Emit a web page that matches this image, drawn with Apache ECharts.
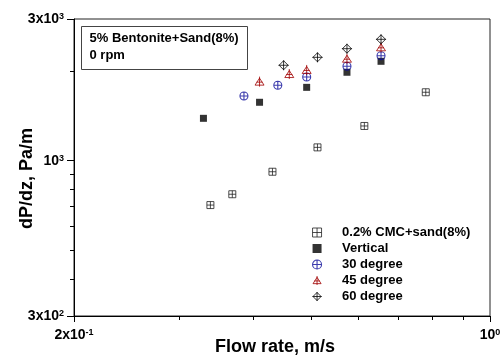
<!DOCTYPE html>
<html>
<head>
<meta charset="utf-8">
<script src="https://cdn.jsdelivr.net/npm/echarts@6/dist/echarts.min.js"></script>
<style>
  html, body { margin: 0; padding: 0; background: #fff; }
  #chart { width: 503px; height: 356px; }
</style>
</head>
<body>
<div id="chart"></div>
<script>
// pressure gradient vs flow rate, log-log
const cmcX = [0.339, 0.369, 0.431, 0.513, 0.615, 0.780];
const cmcY = [709, 771, 918, 1109, 1309, 1700];
const vertX = [0.330, 0.410, 0.492, 0.575, 0.656];
const vertY = [1389, 1573, 1766, 1985, 2161];
const deg30X = [0.386, 0.440, 0.492, 0.575, 0.656];
const deg30Y = [1651, 1794, 1913, 2079, 2257];
const deg45X = [0.410, 0.460, 0.492, 0.575, 0.656];
const deg45Y = [1846, 1958, 2021, 2205, 2409];
const deg60X = [0.450, 0.513, 0.575, 0.656];
const deg60Y = [2096, 2229, 2383, 2563];

const seriesNames = ['0.2% CMC+sand(8%)', 'Vertical', '30 degree', '45 degree', '60 degree'];

const xMajorTicks = [0.2, 1];
const xMinorTicks = [0.3, 0.4, 0.5, 0.6, 0.7, 0.8, 0.9];
const yMajorTicks = [300, 1000, 3000];
const yMinorTicks = [400, 500, 600, 700, 800, 900, 2000];

const xLabels = { 0.2: '2x10{sup|-1}', 1: '10{sup|0}' };
const yLabels = { 300: '3x10{sup|2}', 1000: '10{sup|3}', 3000: '3x10{sup|3}' };

const FONT = '"Liberation Sans", Arial, sans-serif';

// marker shapes
const SQ_CROSS = 'path://M0 0L20 0L20 20L0 20Z M10 0L10 20 M0 10L20 10';
const SQ = 'path://M0 0L20 0L20 20L0 20Z';
const CIRC_PLUS = 'path://M0 10A10 10 0 1 1 20 10A10 10 0 1 1 0 10Z M10 0L10 20 M0 10L20 10';
const TRI_PLUS = 'path://M10 3L19 17L1 17Z M10 0L10 20 M4 11L16 11';
const DIA_PLUS = 'path://M10 1L19 10L10 19L1 10Z M10 0L10 20 M0 10L20 10';

const CLEAR = 'rgba(255,255,255,0)';
const styles = [
  { color: '#fff', borderColor: '#222', borderWidth: 1 },
  { color: '#000', borderColor: '#000', borderWidth: 0 },
  { color: CLEAR, borderColor: '#0a0a99', borderWidth: 1.1 },
  { color: CLEAR, borderColor: '#a00000', borderWidth: 1 },
  { color: CLEAR, borderColor: '#000', borderWidth: 1 }
];

const zip = (xs, ys) => xs.map((x, i) => [x, ys[i]]);

const richSup = {
  sup: { fontSize: 9, fontWeight: 'bold', fontFamily: FONT, verticalAlign: 'top', lineHeight: 9 }
};

const pick = (map) => (v) => {
  for (const k in map) {
    if (Math.abs(v - Number(k)) / Number(k) < 1e-3) return map[k];
  }
  return '';
};

const chart = echarts.init(document.getElementById('chart'), null, { renderer: 'canvas' });

const option = {
  animation: false,
  backgroundColor: '#fff',
  grid: {
    left: 74, right: 13, top: 19, bottom: 40,
    outerBoundsMode: 'none', containLabel: false,
    show: true, borderColor: '#222', borderWidth: 1
  },
  legend: {
    orient: 'vertical',
    left: 307,
    top: 221,
    itemWidth: 40,
    itemHeight: 9,
    itemGap: 3,
    symbolKeepAspect: true,
    data: seriesNames.map((n, i) => ({ name: n, itemStyle: i >= 2 ? Object.assign({}, styles[i], { color: '#fff' }) : styles[i] })),
    textStyle: { fontFamily: FONT, fontWeight: 'bold', fontSize: 13, color: '#000' }
  },
  xAxis: [
    {
      type: 'log', min: 0.2, max: 1,
      name: 'Flow rate, m/s', nameLocation: 'middle', nameGap: 22, nameMoveOverlap: false,
      nameTextStyle: { fontFamily: FONT, fontWeight: 'bold', fontSize: 18, color: '#000', padding: [0, 14, 0, 0] },
      axisLine: { show: true, lineStyle: { color: '#000', width: 1 } },
      axisTick: { show: true, inside: false, customValues: xMajorTicks, length: 6, lineStyle: { color: '#000' } },
      axisLabel: {
        margin: 12, formatter: pick(xLabels),
        fontFamily: FONT, fontWeight: 'bold', fontSize: 14, color: '#000', rich: richSup
      },
      splitLine: { show: false }
    },
    {
      type: 'log', min: 0.2, max: 1, position: 'bottom',
      axisLine: { show: false },
      axisTick: { show: true, inside: false, customValues: xMinorTicks, length: 4, lineStyle: { color: '#000' } },
      axisLabel: { show: false },
      splitLine: { show: false }
    }
  ],
  yAxis: [
    {
      type: 'log', min: 300, max: 3000,
      name: 'dP/dz, Pa/m', nameLocation: 'middle', nameGap: 38, nameMoveOverlap: false,
      nameTextStyle: { fontFamily: FONT, fontWeight: 'bold', fontSize: 18, color: '#000', padding: [0, 22, 0, 0] },
      axisLine: { show: true, lineStyle: { color: '#000', width: 1 } },
      axisTick: { show: true, inside: false, customValues: yMajorTicks, length: 7, lineStyle: { color: '#000' } },
      axisLabel: {
        margin: 10, formatter: pick(yLabels),
        fontFamily: FONT, fontWeight: 'bold', fontSize: 14, color: '#000', rich: richSup
      },
      splitLine: { show: false }
    },
    {
      type: 'log', min: 300, max: 3000, position: 'left',
      axisLine: { show: false },
      axisTick: { show: true, inside: false, customValues: yMinorTicks, length: 4, lineStyle: { color: '#000' } },
      axisLabel: { show: false },
      splitLine: { show: false }
    }
  ],
  graphic: [
    {
      type: 'group', left: 81, top: 26,
      children: [
        { type: 'rect', shape: { x: 0, y: 0, width: 166, height: 43 }, style: { fill: '#fff', stroke: '#444', lineWidth: 1 } },
        { type: 'text', x: 8, y: 12, style: { text: '5% Bentonite+Sand(8%)', font: 'bold 13px ' + FONT, fill: '#000', verticalAlign: 'middle' } },
        { type: 'text', x: 8, y: 29, style: { text: '0 rpm', font: 'bold 13px ' + FONT, fill: '#000', verticalAlign: 'middle' } }
      ]
    }
  ],
  series: [
    {
      name: seriesNames[0], type: 'scatter', data: zip(cmcX, cmcY),
      symbol: SQ_CROSS, symbolSize: 7, symbolKeepAspect: true, itemStyle: styles[0]
    },
    {
      name: seriesNames[1], type: 'scatter', data: zip(vertX, vertY),
      symbol: SQ, symbolSize: 7, symbolKeepAspect: true, itemStyle: styles[1]
    },
    {
      name: seriesNames[2], type: 'scatter', data: zip(deg30X, deg30Y),
      symbol: CIRC_PLUS, symbolSize: 8, symbolKeepAspect: true, itemStyle: styles[2]
    },
    {
      name: seriesNames[3], type: 'scatter', data: zip(deg45X, deg45Y),
      symbol: TRI_PLUS, symbolSize: 10, symbolKeepAspect: true, itemStyle: styles[3]
    },
    {
      name: seriesNames[4], type: 'scatter', data: zip(deg60X, deg60Y),
      symbol: DIA_PLUS, symbolSize: 10, symbolKeepAspect: true, itemStyle: styles[4]
    }
  ]
};

chart.setOption(option);
</script>
</body>
</html>
